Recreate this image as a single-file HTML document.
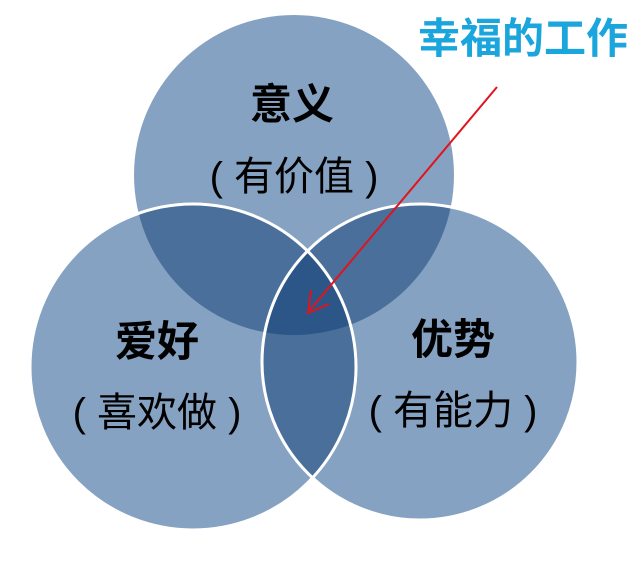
<!DOCTYPE html>
<html><head><meta charset="utf-8"><style>
html,body{margin:0;padding:0;background:#fff;}
svg{display:block;}
text{font-family:"Liberation Sans","Noto Sans CJK SC",sans-serif;}
</style></head><body>
<svg width="640" height="565" viewBox="0 0 640 565">
<defs>
<clipPath id="cT"><circle cx="294" cy="175" r="160"/></clipPath>
<clipPath id="cL"><circle cx="193" cy="367" r="163"/></clipPath>
</defs>
<rect width="640" height="565" fill="#fff"/>
<circle cx="294" cy="175" r="160" fill="#86a2c2"/>
<circle cx="193" cy="367" r="163" fill="#86a2c2"/>
<circle cx="420" cy="362" r="158" fill="#86a2c2"/>
<g clip-path="url(#cT)"><circle cx="193" cy="367" r="163" fill="#4a6f9b"/><circle cx="420" cy="362" r="158" fill="#4a6f9b"/></g>
<g clip-path="url(#cL)"><circle cx="420" cy="362" r="158" fill="#4a6f9b"/></g>
<g clip-path="url(#cT)"><g clip-path="url(#cL)"><circle cx="420" cy="362" r="158" fill="#2c5688"/></g></g>
<circle cx="193" cy="367" r="163" fill="none" stroke="#fff" stroke-width="3"/>
<circle cx="420" cy="362" r="158" fill="none" stroke="#fff" stroke-width="3"/>
<g fill="#000" text-anchor="middle">
<text x="292" y="119" font-size="42" font-weight="bold">意义</text>
<text x="294" y="190" font-size="40" xml:space="preserve">( 有价值 )</text>
<text x="157" y="356" font-size="42" font-weight="bold">爱好</text>
<text x="157" y="426" font-size="40" xml:space="preserve">( 喜欢做 )</text>
<text x="453" y="354" font-size="42" font-weight="bold">优势</text>
<text x="453" y="424" font-size="40" xml:space="preserve">( 有能力 )</text>
</g>
<text x="523" y="53" font-size="42" font-weight="bold" fill="#1aa6dc" text-anchor="middle">幸福的工作</text>
<line x1="497" y1="87" x2="310" y2="310" stroke="#e0141e" stroke-width="2"/>
<polyline points="311,290 308,313 329,304" fill="none" stroke="#e0141e" stroke-width="2"/>
</svg>
</body></html>
